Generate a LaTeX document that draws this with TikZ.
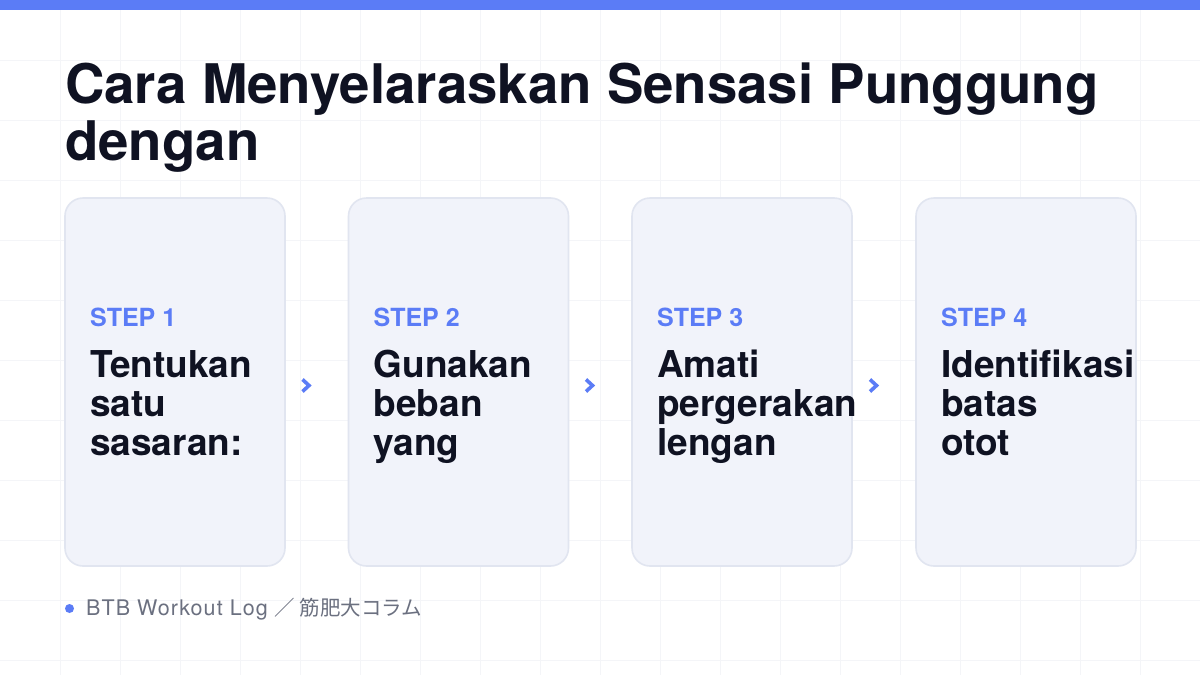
\documentclass[tikz,border=0pt]{standalone}
\usepackage{fontspec}
\setmainfont{TeX Gyre Heros}
\newfontfamily\cjkfont{Noto Sans CJK JP}
\newfontfamily\footfont[LetterSpace=5]{TeX Gyre Heros}
\definecolor{accent}{HTML}{5B7CF6}
\definecolor{ink}{HTML}{0F1222}
\definecolor{cardfill}{HTML}{F1F3FA}
\definecolor{cardline}{HTML}{E1E5F0}
\definecolor{gridc}{HTML}{F4F5F8}
\definecolor{muted}{HTML}{6B7080}
\tikzset{
  card/.style={draw=cardline, line width=1.6pt, fill=cardfill, rounded corners=18pt},
  steplabel/.style={anchor=base west, inner sep=0pt, text=accent, font=\fontsize{25}{28}\selectfont\bfseries},
  stepbody/.style={anchor=base west, inner sep=0pt, text=ink, align=left, font=\fontsize{37}{39}\selectfont\bfseries},
  titletext/.style={anchor=base west, inner sep=0pt, text=ink, font=\fontsize{54.6}{58}\selectfont\bfseries},
  chev/.style={draw=accent, line width=3.6pt, miter limit=10},
}
\begin{document}
\begin{tikzpicture}[x=1pt,y=-1pt]
\useasboundingbox (0,0) rectangle (1200,675);
\fill[white] (0,0) rectangle (1200,675);
\foreach \gx in {60,120,...,1140} \draw[gridc, line width=0.8pt] (\gx,10) -- (\gx,675);
\foreach \gy in {60,120,...,660} \draw[gridc, line width=0.8pt] (0,\gy) -- (1200,\gy);
\fill[accent] (0,0) rectangle (1200,10);
\node[titletext] (title1) at (65,103) {Cara Menyelaraskan Sensasi Punggung};
\node[titletext] (title2) at (65,160) {dengan};
\draw[card] (65,198) rectangle ++(220,368);
\draw[card] (348.5,198) rectangle ++(220,368);
\draw[card] (632,198) rectangle ++(220,368);
\draw[card] (916,198) rectangle ++(220,368);
\node[steplabel] (s1) at (90,326) {STEP 1};
\node[steplabel] (s2) at (373.5,326) {STEP 2};
\node[steplabel] (s3) at (657,326) {STEP 3};
\node[steplabel] (s4) at (941,326) {STEP 4};
\node[stepbody] (b1) at (90,455) {Tentukan\\satu\\sasaran:};
\node[stepbody] (b2) at (373.5,455) {Gunakan\\beban\\yang};
\node[stepbody] (b3) at (657,455) {Amati\\pergerakan\\lengan};
\node[stepbody] (b4) at (941,455) {Identifikasi\\batas\\otot};
\foreach \chx in {302.5,586,870} \draw[chev] (\chx,379.5) -- ++(6.5,6) -- ++(-6.5,6);
\fill[accent] (69.5,608.5) circle (4.5);
\node[anchor=base west, inner sep=0pt, text=muted, font=\footfont\fontsize{21.5}{24}\selectfont] (foot) at (86,615) {BTB Workout Log {\cjkfont\fontsize{20.5}{24}\selectfont ／ 筋肥大コラム}};
\end{tikzpicture}
\end{document}
